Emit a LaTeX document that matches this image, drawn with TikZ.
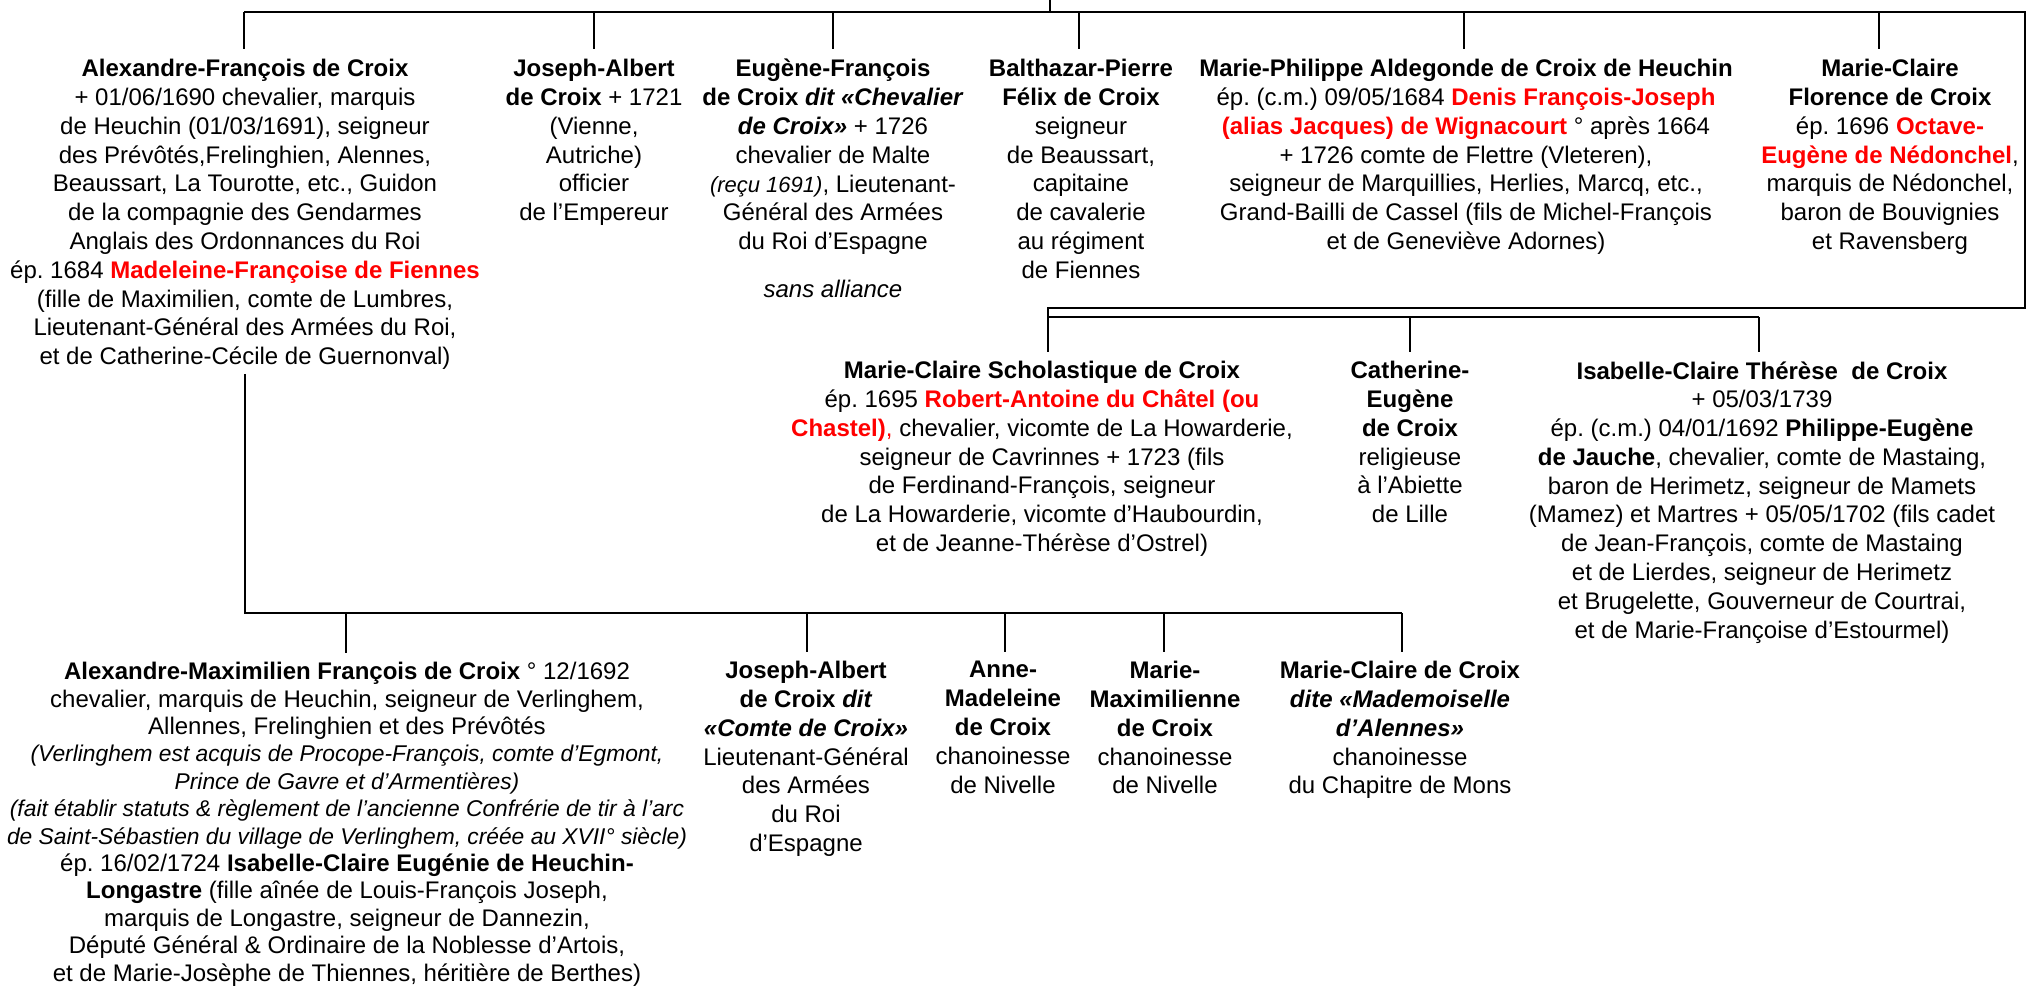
\documentclass[tikz,border=0pt]{standalone}
\usepackage{fontspec}
\setmainfont{Liberation Sans}
\newcommand{\rb}[1]{\textcolor{red}{\bfseries #1}}
\newcommand{\nt}[1]{{\fontsize{11.4}{13.7}\selectfont\itshape #1}}
\tikzset{
  person/.style={anchor=north, align=center, inner sep=0pt,
    font=\fontsize{12}{14.4}\selectfont\frenchspacing,
    execute at begin node=\strut, execute at end node=\strut},
  trunk/.style={line width=1.3pt},
  drop/.style={line width=1pt},
}
\begin{document}
\frenchspacing
\begin{tikzpicture}[x=0.5pt,y=-0.5pt]
\fill[white] (0,0) rectangle (2026,988);
\useasboundingbox (0,0) rectangle (2026,988);

% ---------- row 1 ----------
\node[person] (a1) at (245,59) {\textbf{Alexandre-François de Croix}\\
+ 01/06/1690 chevalier, marquis\\
de Heuchin (01/03/1691), seigneur\\
des Prévôtés,Frelinghien, Alennes,\\
Beaussart, La Tourotte, etc., Guidon\\
de la compagnie des Gendarmes\\
Anglais des Ordonnances du Roi\\
ép. 1684 \rb{Madeleine-Françoise de Fiennes}\\
(fille de Maximilien, comte de Lumbres,\\
Lieutenant-Général des Armées du Roi,\\
et de Catherine-Cécile de Guernonval)};

\node[person] (a2) at (594,59) {\textbf{Joseph-Albert}\\
\textbf{de Croix} + 1721\\
(Vienne,\\
Autriche)\\
officier\\
de l’Empereur};

\node[person] (a3) at (833,59) {\textbf{Eugène-François}\\
\textbf{de Croix \textit{dit «Chevalier}}\\
\textbf{\textit{de Croix»}} + 1726\\
chevalier de Malte\\
{\fontsize{11}{14.4}\selectfont\itshape (reçu 1691)}, Lieutenant-\\
Général des Armées\\
du Roi d’Espagne\\[9.6pt]
\textit{sans alliance}};

\node[person] (a4) at (1081,59) {\textbf{Balthazar-Pierre}\\
\textbf{Félix de Croix}\\
seigneur\\
de Beaussart,\\
capitaine\\
de cavalerie\\
au régiment\\
de Fiennes};

\node[person] (a5) at (1466,59) {\textbf{Marie-Philippe Aldegonde de Croix de Heuchin}\\
ép. (c.m.) 09/05/1684 \rb{Denis François-Joseph}\\
\rb{(alias Jacques) de Wignacourt} ° après 1664\\
+ 1726 comte de Flettre (Vleteren),\\
seigneur de Marquillies, Herlies, Marcq, etc.,\\
Grand-Bailli de Cassel (fils de Michel-François\\
et de Geneviève Adornes)};

\node[person] (a6) at (1890,59) {\textbf{Marie-Claire}\\
\textbf{Florence de Croix}\\
ép. 1696 \rb{Octave-}\\
\rb{Eugène de Nédonchel},\\
marquis de Nédonchel,\\
baron de Bouvignies\\
et Ravensberg};

% ---------- row 2 ----------
\node[person] (b1) at (1042,361) {\textbf{Marie-Claire Scholastique de Croix}\\
ép. 1695 \rb{Robert-Antoine du Châtel (ou}\\
\rb{Chastel)}\textcolor{red}{,} chevalier, vicomte de La Howarderie,\\
seigneur de Cavrinnes + 1723 (fils\\
de Ferdinand-François, seigneur\\
de La Howarderie, vicomte d’Haubourdin,\\
et de Jeanne-Thérèse d’Ostrel)};

\node[person] (b2) at (1410,361) {\textbf{Catherine-}\\
\textbf{Eugène}\\
\textbf{de Croix}\\
religieuse\\
à l’Abiette\\
de Lille};

\node[person] (b3) at (1762,361) {\textbf{Isabelle-Claire Thérèse\ \ de Croix}\\
+ 05/03/1739\\
ép. (c.m.) 04/01/1692 \textbf{Philippe-Eugène}\\
\textbf{de Jauche}, chevalier, comte de Mastaing,\\
baron de Herimetz, seigneur de Mamets\\
(Mamez) et Martres + 05/05/1702 (fils cadet\\
de Jean-François, comte de Mastaing\\
et de Lierdes, seigneur de Herimetz\\
et Brugelette, Gouverneur de Courtrai,\\
et de Marie-Françoise d’Estourmel)};

% ---------- row 3 ----------
\node[person, font=\fontsize{12}{13.7}\selectfont\frenchspacing] (c1) at (347,662) {\textbf{Alexandre-Maximilien François de Croix} ° 12/1692\\
chevalier, marquis de Heuchin, seigneur de Verlinghem,\\
Allennes, Frelinghien et des Prévôtés\\
\nt{(Verlinghem est acquis de Procope-François, comte d’Egmont,}\\
\nt{Prince de Gavre et d’Armentières)}\\
\nt{(fait établir statuts \& règlement de l’ancienne Confrérie de tir à l’arc}\\
\nt{de Saint-Sébastien du village de Verlinghem, créée au XVII° siècle)}\\
ép. 16/02/1724 \textbf{Isabelle-Claire Eugénie de Heuchin-}\\
\textbf{Longastre} (fille aînée de Louis-François Joseph,\\
marquis de Longastre, seigneur de Dannezin,\\
Député Général \& Ordinaire de la Noblesse d’Artois,\\
et de Marie-Josèphe de Thiennes, héritière de Berthes)};

\node[person] (c2) at (806,661) {\textbf{Joseph-Albert}\\
\textbf{de Croix \textit{dit}}\\
\textbf{\textit{«Comte de Croix»}}\\
Lieutenant-Général\\
des Armées\\
du Roi\\
d’Espagne};

\node[person] (c3) at (1003,661) {\textbf{Anne-}\\
\textbf{Madeleine}\\
\textbf{de Croix}\\
chanoinesse\\
de Nivelle};

\node[person] (c4) at (1165,661) {\textbf{Marie-}\\
\textbf{Maximilienne}\\
\textbf{de Croix}\\
chanoinesse\\
de Nivelle};

\node[person] (c5) at (1400,661) {\textbf{Marie-Claire de Croix}\\
\textbf{\textit{dite «Mademoiselle}}\\
\textbf{\textit{d’Alennes»}}\\
chanoinesse\\
du Chapitre de Mons};

% ---------- connectors ----------
\coordinate (par) at (1050,0);
\coordinate (pj) at (1050,12);
\coordinate (t1) at (244,12);
\coordinate (t2) at (594,12);
\coordinate (t3) at (833,12);
\coordinate (t4) at (1079,12);
\coordinate (t5) at (1464,12);
\coordinate (t6) at (1879,12);
\coordinate (r1) at (2025,12);
\coordinate (r2) at (2025,308);
\coordinate (m2) at (1048,308);
\coordinate (m3) at (1048,317);
\coordinate (u2) at (1410,317);
\coordinate (u3) at (1759,317);
\coordinate (v0) at (245,613);
\coordinate (w1) at (346,613);
\coordinate (w2) at (807,613);
\coordinate (w3) at (1005,613);
\coordinate (w4) at (1164,613);
\coordinate (w5) at (1402,613);

\draw[trunk] (par) -- (pj);
\draw[trunk] (t1) -- (r1) -- (r2) -- (m2) -- ([yshift=4.5pt]b1.north -| m2);
\draw[trunk] (m3) -- (u3);
\foreach \t/\n in {t1/a1,t2/a2,t3/a3,t4/a4,t5/a5,t6/a6}
  \draw[drop] (\t) -- ([yshift=5pt]\n.north -| \t);
\foreach \t/\n in {u2/b2,u3/b3}
  \draw[drop] (\t) -- ([yshift=4.5pt]\n.north -| \t);
\draw[trunk] (a1.south -| v0) -- (v0) -- (w5);
\foreach \t/\n in {w1/c1,w2/c2,w3/c3,w4/c4,w5/c5}
  \draw[drop] (\t) -- ([yshift=4.5pt]\n.north -| \t);
\end{tikzpicture}
\end{document}
